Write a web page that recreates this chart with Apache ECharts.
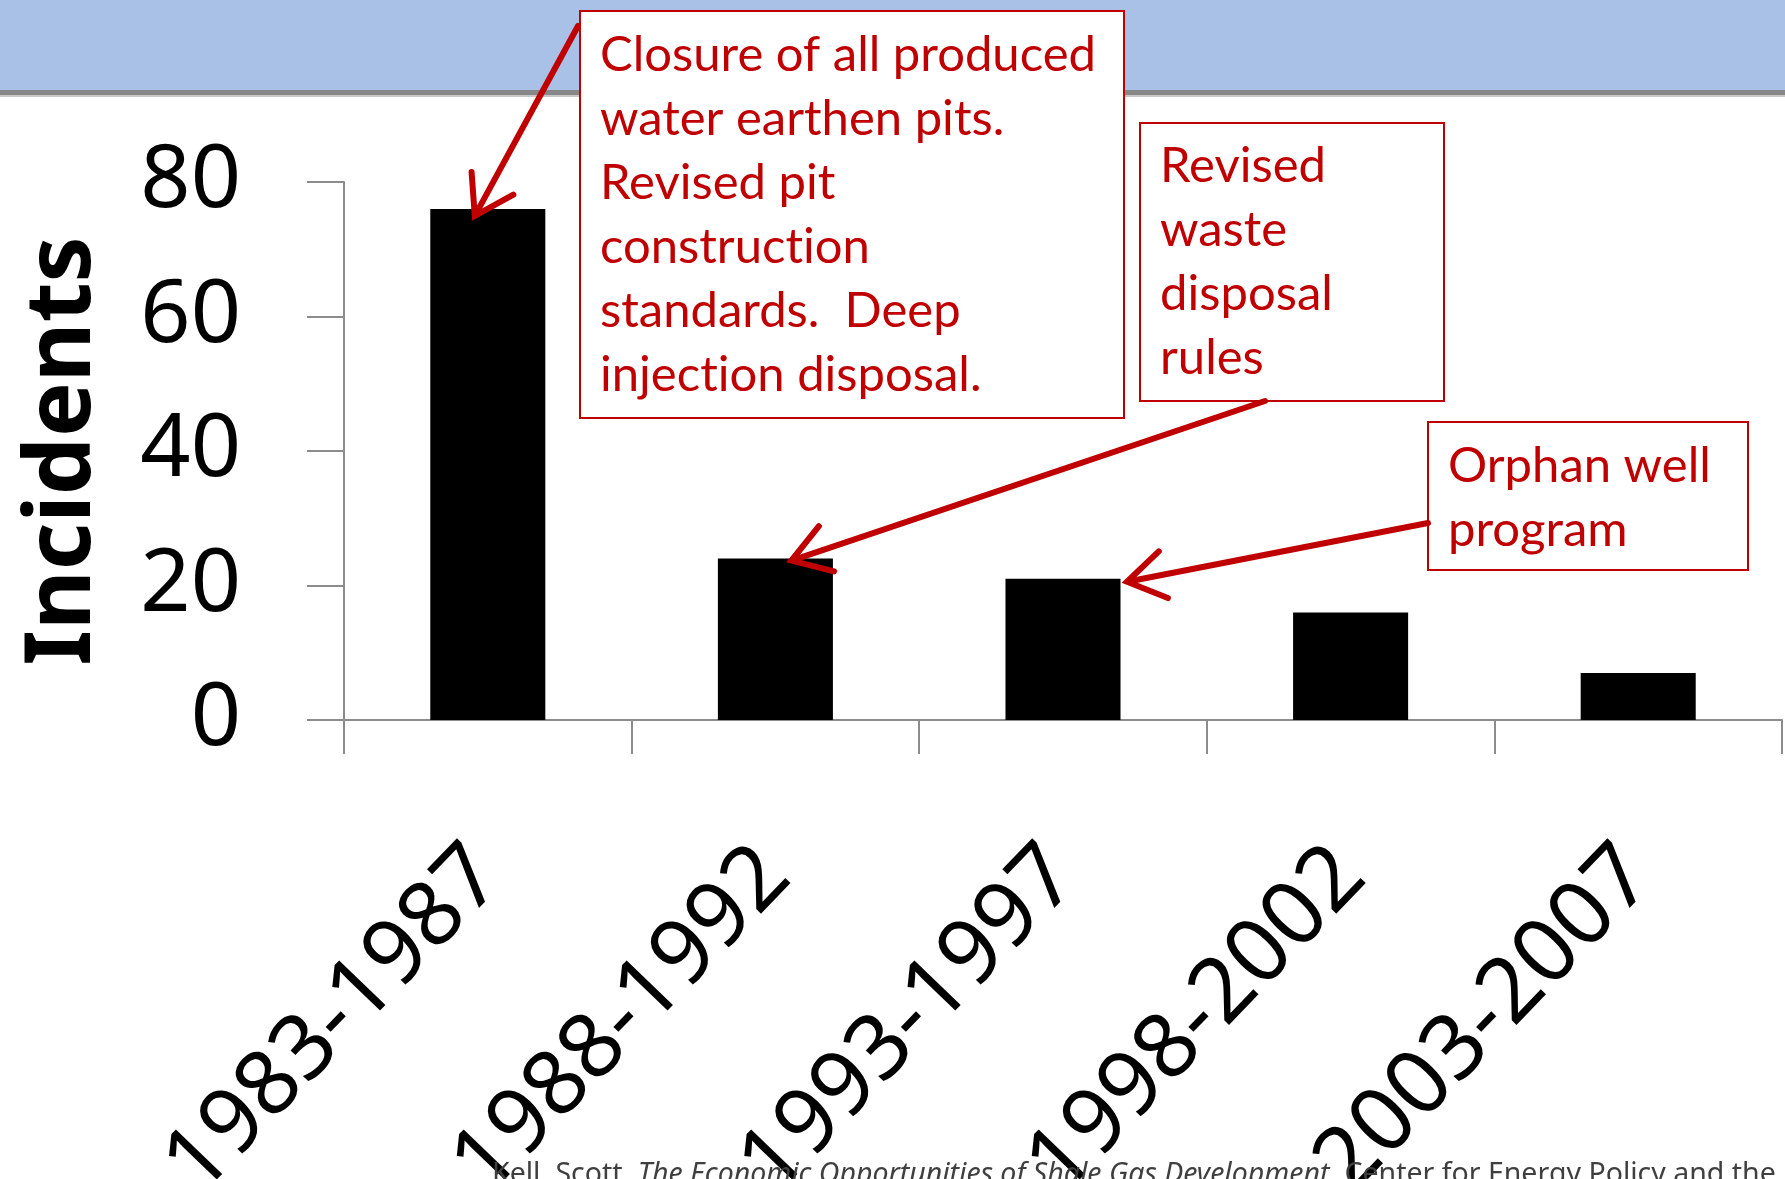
<!DOCTYPE html>
<html>
<head>
<meta charset="utf-8">
<script src="https://cdn.jsdelivr.net/npm/echarts@6/dist/echarts.min.js"></script>
<style>
  html, body { margin: 0; padding: 0; background: #fff; }
  #chart { width: 1785px; height: 1179px; }
</style>
</head>
<body>
<div id="chart"></div>
<script>
// data
const periods = ['1983-1987', '1988-1992', '1993-1997', '1998-2002', '2003-2007']
const incidents = [76, 24, 21, 16, 7]
const yMin = 0
const yMax = 80
const yStep = 20

// \u200c keeps Lato from joining "ti" into a ligature
const note1 = ['Closure of all produced', 'water earthen pits.', 'Revised pit', 'construct\u200cion', 'standards.  Deep', 'inject\u200cion disposal.']
const note2 = ['Revised', 'waste', 'disposal', 'rules']
const note3 = ['Orphan well', 'program']
// which bar each note points at
const noteTargets = [0, 1, 2]

const RED = '#C00000'
const AXIS = '#8c8c8c'

const chart = echarts.init(document.getElementById('chart'))

chart.setOption({
  animation: false,
  backgroundColor: '#fff',
  grid: {
    left: 344,
    right: 3,
    top: 182,
    bottom: 459,
    containLabel: false,
    outerBoundsMode: 'none'
  },
  xAxis: {
    type: 'category',
    data: periods,
    boundaryGap: true,
    axisLine: {lineStyle: {color: AXIS, width: 2}},
    axisTick: {show: true, length: 34, alignWithLabel: false, lineStyle: {color: AXIS, width: 2}},
    axisLabel: {
      interval: 0,
      rotate: 46,
      margin: 142,
      color: '#000',
      fontSize: 90,
      fontFamily: 'Noto Sans'
    },
    splitLine: {show: false}
  },
  yAxis: {
    type: 'value',
    min: yMin,
    max: yMax,
    interval: yStep,
    name: 'Incidents',
    nameLocation: 'middle',
    nameRotate: 90,
    nameGap: 234,
    nameTextStyle: {fontSize: 92, fontWeight: 'bold', color: '#000', fontFamily: 'Noto Sans'},
    axisLine: {show: true, lineStyle: {color: AXIS, width: 2}},
    axisTick: {show: true, length: 37, lineStyle: {color: AXIS, width: 2}},
    axisLabel: {margin: 103, color: '#000', fontSize: 88, fontFamily: 'Noto Sans'},
    splitLine: {show: false}
  },
  series: [{
    type: 'bar',
    data: incidents,
    barWidth: '40%',
    itemStyle: {color: '#000'}
  }]
})

// annotations anchored on the bars through the chart's own scales
function tipOf(i, dx, dy) {
  const p = chart.convertToPixel({seriesIndex: 0}, [i, incidents[i]])
  return [p[0] + dx, p[1] + dy]
}

function arrow(from, tip) {
  const ang = Math.atan2(tip[1] - from[1], tip[0] - from[0])
  const len = 44
  const spread = Math.PI / 5.5
  const b1 = [tip[0] - len * Math.cos(ang - spread), tip[1] - len * Math.sin(ang - spread)]
  const b2 = [tip[0] - len * Math.cos(ang + spread), tip[1] - len * Math.sin(ang + spread)]
  const end = [tip[0] - 4 * Math.cos(ang), tip[1] - 4 * Math.sin(ang)]
  const style = {stroke: RED, lineWidth: 6, lineCap: 'round', lineJoin: 'miter', fill: null}
  return [
    {type: 'line', z: 20, shape: {x1: from[0], y1: from[1], x2: end[0], y2: end[1]}, style: style},
    {type: 'polyline', z: 20, shape: {points: [b1, tip, b2]}, style: style}
  ]
}

function noteBox(x, y, w, h, textX, textTop, lines) {
  return [
    {type: 'rect', z: 15, shape: {x: x, y: y, width: w, height: h},
      style: {fill: '#fff', stroke: RED, lineWidth: 2}},
    {type: 'text', z: 16, x: textX, y: textTop,
      style: {text: lines.join('\n'), fill: RED, font: '49px Lato', lineHeight: 64,
        verticalAlign: 'top', align: 'left'}}
  ]
}

const t1 = tipOf(noteTargets[0], -13, 7)
const t2 = tipOf(noteTargets[1], 16, 2)
const t3 = tipOf(noteTargets[2], 64, 3)

chart.setOption({
  graphic: [
    {type: 'rect', z: 1, shape: {x: 0, y: 0, width: 1785, height: 90}, style: {fill: '#A9C0E7'}},
    {type: 'rect', z: 1, shape: {x: 0, y: 90, width: 1785, height: 5}, style: {fill: '#888888'}},
    {type: 'rect', z: 1, shape: {x: 0, y: 95, width: 1785, height: 2}, style: {fill: '#c8c8c8'}},
    ...noteBox(580, 11, 544, 407, 600, 23, note1),
    ...noteBox(1140, 123, 304, 278, 1160, 134, note2),
    ...noteBox(1428, 422, 320, 148, 1448, 434, note3),
    ...arrow([578, 26], t1),
    ...arrow([1265, 401], t2),
    ...arrow([1428, 523], t3),
    {
      type: 'text', z: 30, x: 492, y: 1160,
      style: {
        text: '{n|Kell, Scott. }{i|The Economic Opportunities of Shale Gas Development}{n|. Center for Energy Policy and the}',
        verticalAlign: 'top',
        rich: {
          n: {font: '28.5px "Noto Sans"', fill: '#3f3f3f'},
          i: {font: 'italic 28.5px "Noto Sans"', fill: '#3f3f3f'}
        }
      }
    }
  ]
})
</script>
</body>
</html>
